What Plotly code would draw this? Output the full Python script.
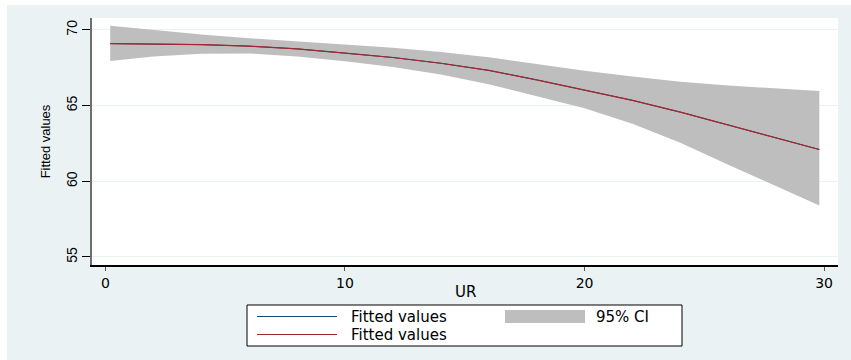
import plotly.graph_objects as go

# ---- data ----
ur = [0.2, 2, 4, 6, 8, 10, 12, 14, 16, 18, 20, 22, 24, 26, 28, 29.8]
fitted = [69.10, 69.09, 69.03, 68.93, 68.75, 68.47, 68.18, 67.80, 67.33, 66.70,
          66.03, 65.35, 64.57, 63.72, 62.86, 62.10]
ci_upper = [70.28, 70.00, 69.70, 69.45, 69.25, 69.05, 68.82, 68.55, 68.20, 67.75,
            67.30, 66.92, 66.58, 66.33, 66.13, 65.97]
ci_lower = [67.95, 68.25, 68.42, 68.45, 68.25, 67.93, 67.55, 67.05, 66.42, 65.62,
            64.82, 63.80, 62.55, 61.10, 59.70, 58.40]
x_ticks = [0, 10, 20, 30]
y_ticks = [55, 60, 65, 70]
legend_labels = ["Fitted values", "95% CI", "Fitted values"]

BG = "#EAF2F3"
CI_COL = "#BEBEBE"
BLUE = "#1A476F"
RED = "#A3282F"
FONT = "Liberation Sans, Arial, sans-serif"
WIDE = "DejaVu Sans, sans-serif"

fig = go.Figure()
fig.add_trace(go.Scatter(x=ur, y=ci_upper, mode="lines", line=dict(width=0, color=CI_COL),
                         hoverinfo="skip", showlegend=False))
fig.add_trace(go.Scatter(x=ur, y=ci_lower, mode="lines", line=dict(width=0, color=CI_COL),
                         fill="tonexty", fillcolor=CI_COL, name=legend_labels[1], showlegend=False))
fig.add_trace(go.Scatter(x=ur, y=fitted, mode="lines", line=dict(width=1.0, color=BLUE),
                         name=legend_labels[0], showlegend=False))
fig.add_trace(go.Scatter(x=ur, y=fitted, mode="lines", line=dict(width=1.2, color=RED),
                         name=legend_labels[2], showlegend=False))

W, H = 851, 360
L, R, T, B = 92, 13, 18, 95
pw, ph = W - L - R, H - T - B

def px(xp):
    return (xp - L) / pw

def py(yp):
    return (H - B - yp) / ph

shapes = []
# outer light background (thin white strip at top/left like the reference)
shapes.append(dict(type="rect", xref="paper", yref="paper", layer="below",
                   x0=px(7), x1=px(W + 5), y0=py(H + 5), y1=py(5),
                   fillcolor=BG, line=dict(width=0)))
# white plot region
shapes.append(dict(type="rect", xref="paper", yref="paper", layer="below",
                   x0=0, x1=1, y0=0, y1=1, fillcolor="white", line=dict(width=0)))
# legend box
shapes.append(dict(type="rect", xref="paper", yref="paper",
                   x0=px(247), x1=px(682), y0=py(346), y1=py(305),
                   fillcolor="white", line=dict(color="black", width=1)))
# legend keys
shapes.append(dict(type="line", xref="paper", yref="paper",
                   x0=px(257), x1=px(337), y0=py(316.5), y1=py(316.5),
                   line=dict(color=BLUE, width=1.2)))
shapes.append(dict(type="line", xref="paper", yref="paper",
                   x0=px(257), x1=px(337), y0=py(334.5), y1=py(334.5),
                   line=dict(color=RED, width=1.2)))
shapes.append(dict(type="rect", xref="paper", yref="paper",
                   x0=px(505), x1=px(585), y0=py(323), y1=py(310),
                   fillcolor=CI_COL, line=dict(width=0)))

lf = dict(size=15, color="black", family=WIDE)
annotations = [
    dict(text=legend_labels[0], xref="paper", yref="paper", x=px(349), y=py(316.5),
         xanchor="left", yanchor="middle", showarrow=False, font=lf),
    dict(text=legend_labels[2], xref="paper", yref="paper", x=px(349), y=py(335),
         xanchor="left", yanchor="middle", showarrow=False, font=lf),
    dict(text=legend_labels[1], xref="paper", yref="paper", x=px(594), y=py(316.5),
         xanchor="left", yanchor="middle", showarrow=False, font=lf),
    dict(text="UR", xref="paper", yref="paper", x=0.5 * (px(92) + px(838)), y=py(292),
         xanchor="center", yanchor="middle", showarrow=False,
         font=dict(size=15, color="black", family=WIDE)),
]

fig.update_layout(
    width=W, height=H,
    margin=dict(l=L, r=R, t=T, b=B),
    paper_bgcolor="white",
    plot_bgcolor="white",
    font=dict(family=FONT, color="black"),
    showlegend=False,
    shapes=shapes,
    annotations=annotations,
    xaxis=dict(range=[-0.56, 30.58], tickvals=x_ticks, ticks="outside", ticklen=4,
               tickcolor="#555555", tickwidth=1, showgrid=False, zeroline=False,
               showline=True, linecolor="black", linewidth=1.5,
               tickfont=dict(size=14, color="black", family=WIDE)),
    yaxis=dict(range=[54.47, 70.79], tickvals=y_ticks, ticks="outside", ticklen=8,
               tickcolor="black", tickwidth=1, tickangle=-90,
               showgrid=True, gridcolor=BG, gridwidth=1, zeroline=False,
               showline=True, linecolor="#6E6E6E", linewidth=1.5,
               tickfont=dict(size=14, color="black"),
               title=dict(text="Fitted values", font=dict(size=13, color="black"), standoff=10)),
)

fig.write_html("out.html")
